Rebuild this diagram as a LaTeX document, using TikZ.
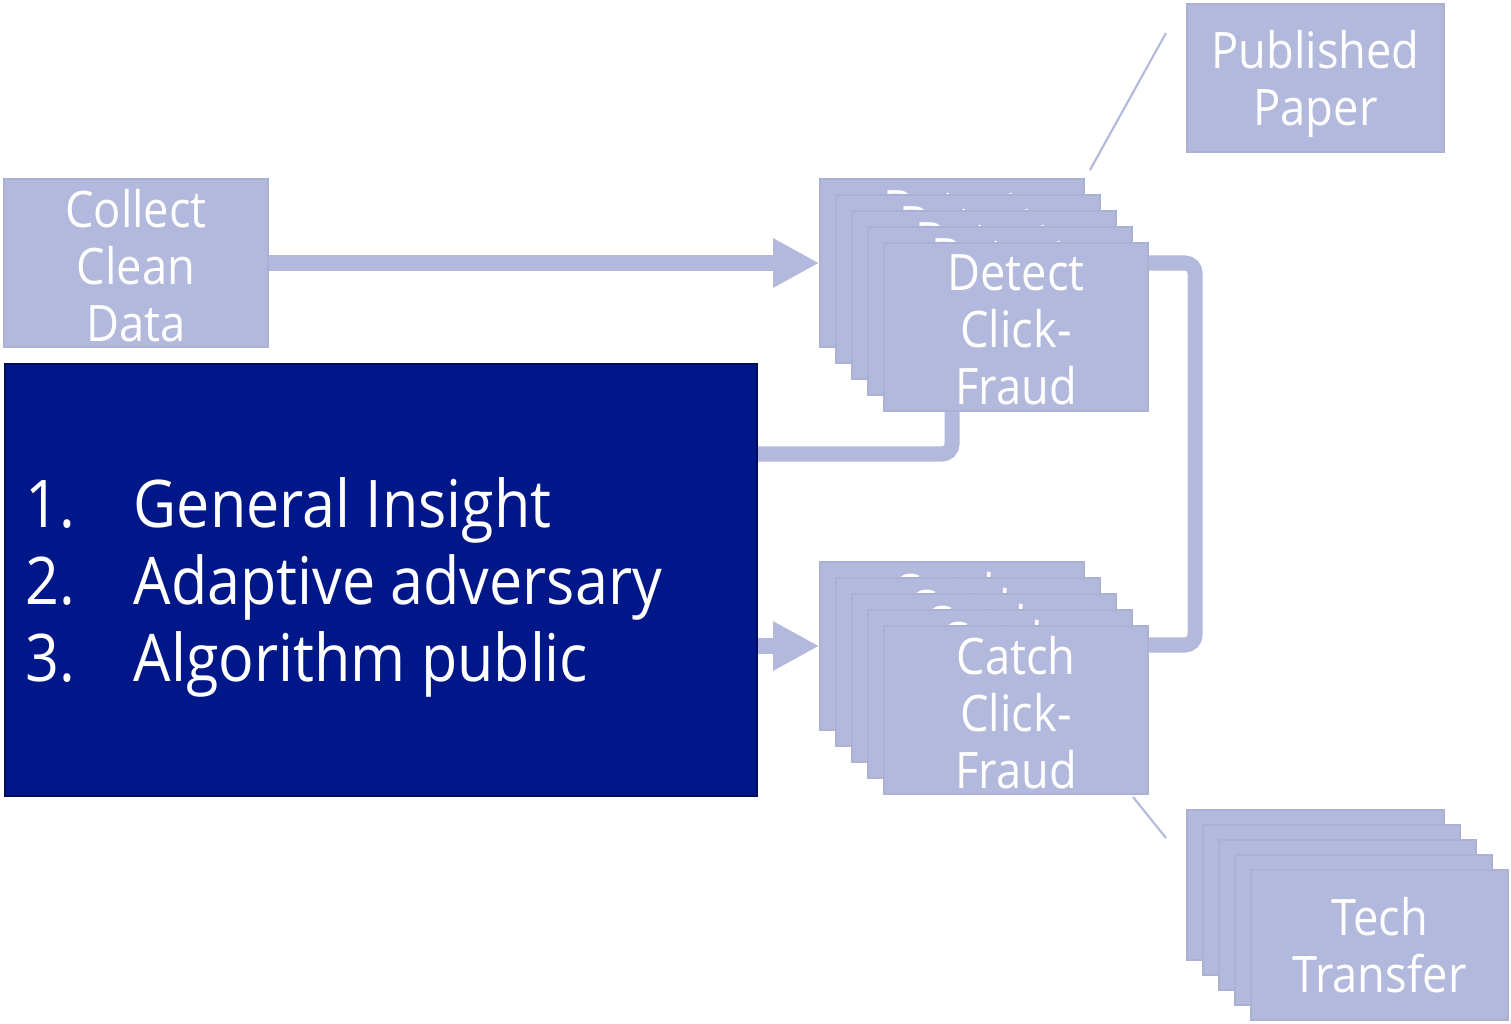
\documentclass[tikz,border=0pt]{standalone}
\usepackage{fontspec}
\setmainfont{Open Sans}[FakeStretch=0.9]
\usetikzlibrary{arrows.meta}
\definecolor{lightfill}{RGB}{178,185,220}
\definecolor{lightedge}{RGB}{170,177,210}
\definecolor{darkfill}{RGB}{0,23,137}
\definecolor{darkedge}{RGB}{0,12,90}
\tikzset{
  smallfont/.style={font=\fontsize{14.3}{16.2}\selectfont},
  boxA/.style={draw=lightedge, line width=0.4pt, fill=lightfill, text=white, align=center,
    inner sep=0pt, minimum width=2.64cm, minimum height=1.68cm, smallfont},
  boxB/.style={boxA, minimum width=2.57cm, minimum height=1.48cm},
  boxC/.style={boxA, minimum width=2.57cm, minimum height=1.50cm},
  boxtext/.style={text=white, align=center, inner sep=0pt, smallfont},
  darkbox/.style={draw=darkedge, line width=0.5pt, fill=darkfill,
    inner sep=0pt, minimum width=7.52cm, minimum height=4.32cm},
  bigtext/.style={text=white, align=left, inner sep=0pt, font=\fontsize{18.7}{21.9}\selectfont},
  conn/.style={draw=lightfill, line width=0.15cm, rounded corners=0.1cm},
  arr/.style={conn, -{Triangle[length=0.46cm,width=0.46cm]}},
  thin/.style={draw=lightfill, line width=0.6pt}
}
\newcommand{\numitem}[2]{\makebox[1.08cm][l]{#1}#2}
\begin{document}
\begin{tikzpicture}[x=0.01cm, y=-0.01cm]
\useasboundingbox (0,0) rectangle (1511,1024);

% Collect box
\node[boxA] (collect) at (136,263) {};
\node[boxtext] (collecttext) at (136,266) {Collect\\Clean\\Data};

% Detect stack
\foreach \i in {0,...,4}{
  \node[boxA] (d\i) at ({952+16*\i},{263+16*\i}) {};
  \node[boxtext] (dt\i) at ({952+16*\i},{266+16*\i}) {Detect\\Click-\\Fraud};
}
% Catch stack
\foreach \i in {0,...,4}{
  \node[boxA] (c\i) at ({952+16*\i},{646+16*\i}) {};
  \node[boxtext] (ct\i) at ({952+16*\i},{649+16*\i}) {Catch\\Click-\\Fraud};
}
% Published paper
\node[boxB] (pub) at (1315.5,78) {};
\node[boxtext] (pubtext) at (1315.5,84) {Published\\Paper};
% Tech transfer stack
\foreach \i in {0,...,4}{
  \node[boxC] (t\i) at ({1315.5+16*\i},{885+15*\i}) {};
}
\node[boxtext] (techtext) at (t4.center) {Tech\\Transfer};

% connectors
\coordinate (j1) at (952,454);
\coordinate (j2) at (1195,263);
\coordinate (j3) at (1195,645);
\draw[arr] (collect.east) -- (d0.west);
\draw[conn] (d4.south -| j1) -- (j1) -- (j1 -| 756,0);
\draw[conn] (d4.east |- j2) -- (j2) -- (j3) -- (c4.east |- j3);

% Insight box
\node[darkbox, anchor=north west] (insight) at (4,363) {};
\node[bigtext, anchor=west] (insighttext) at (25,587)
  {\numitem{1.}{General Insight}\\\numitem{2.}{Adaptive adversary}\\\numitem{3.}{Algorithm public}};

\draw[arr] (insight.east |- c0.west) -- (c0.west);

% thin callout lines
\coordinate (p1) at (1090,170);
\coordinate (p2) at (1166,33);
\coordinate (q1) at (1133,797);
\coordinate (q2) at (1166,838);
\draw[thin] (p1) -- (p2);
\draw[thin] (q1) -- (q2);
\end{tikzpicture}
\end{document}
